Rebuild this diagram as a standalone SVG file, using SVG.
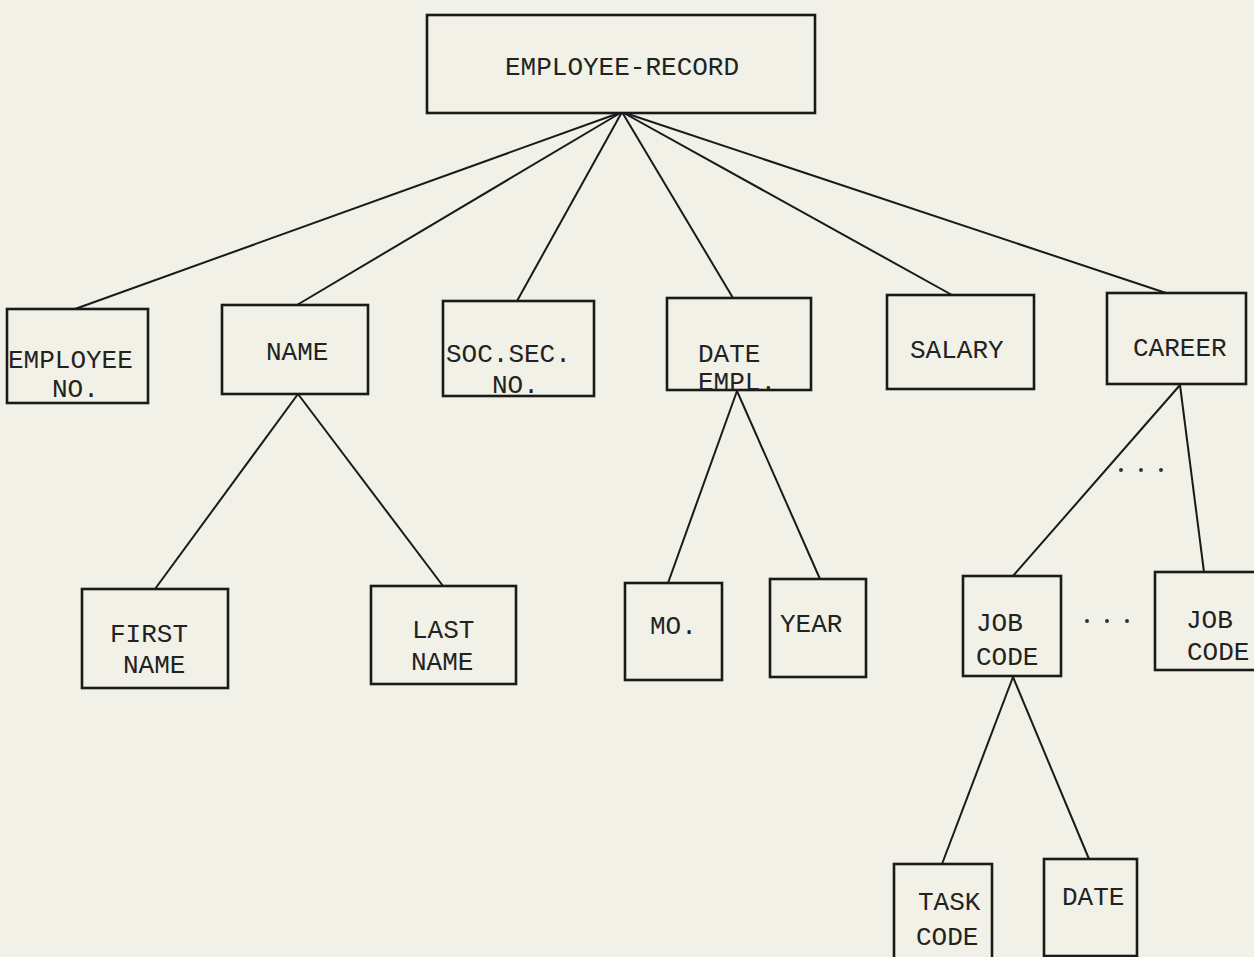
<svg xmlns="http://www.w3.org/2000/svg" width="1254" height="957" viewBox="0 0 1254 957">
<style>
.bg{fill:#f1f1e7}
.box{fill:#f1f1e7;stroke:#1a1a1a;stroke-width:2.6}
.ln{stroke:#1a1a1a;stroke-width:2;fill:none}
text{font-family:"Liberation Mono","DejaVu Sans Mono",monospace;font-size:26px;fill:#222}
.dot{fill:#333}
</style>
<rect class="bg" x="0" y="0" width="1254" height="957"/>
<g id="connectors">
<line class="ln" x1="622" y1="112" x2="75" y2="309"/>
<line class="ln" x1="622" y1="112" x2="297" y2="305"/>
<line class="ln" x1="622" y1="112" x2="517" y2="301"/>
<line class="ln" x1="622" y1="112" x2="733" y2="298"/>
<line class="ln" x1="622" y1="112" x2="952" y2="295"/>
<line class="ln" x1="622" y1="112" x2="1166" y2="293"/>
<line class="ln" x1="298" y1="394" x2="155" y2="589"/>
<line class="ln" x1="298" y1="394" x2="443" y2="586"/>
<line class="ln" x1="737" y1="391" x2="668" y2="583"/>
<line class="ln" x1="737" y1="391" x2="820" y2="579"/>
<line class="ln" x1="1180" y1="385" x2="1013" y2="576"/>
<line class="ln" x1="1180" y1="385" x2="1204" y2="572"/>
<line class="ln" x1="1013" y1="677" x2="942" y2="864"/>
<line class="ln" x1="1013" y1="677" x2="1089" y2="859"/>
</g>
<g id="dots1"><circle class="dot" cx="1121" cy="470" r="2"/><circle class="dot" cx="1141" cy="470" r="2"/><circle class="dot" cx="1161" cy="470" r="2"/></g>
<g id="dots2"><circle class="dot" cx="1087" cy="621" r="2"/><circle class="dot" cx="1107" cy="621" r="2"/><circle class="dot" cx="1127" cy="621" r="2"/></g>
<g id="employee-record"><rect class="box" x="427" y="15" width="388" height="98"/><text x="505" y="75">EMPLOYEE-RECORD</text></g>
<g id="employee-no"><rect class="box" x="7" y="309" width="141" height="94"/><text x="8" y="368">EMPLOYEE</text><text x="52" y="397">NO.</text></g>
<g id="name"><rect class="box" x="222" y="305" width="146" height="89"/><text x="266" y="360">NAME</text></g>
<g id="soc-sec-no"><rect class="box" x="443" y="301" width="151" height="95"/><text x="446" y="362">SOC.SEC.</text><text x="492" y="393">NO.</text></g>
<g id="date-empl"><rect class="box" x="667" y="298" width="144" height="92"/><text x="698" y="362">DATE</text><text x="698" y="390">EMPL.</text></g>
<g id="salary"><rect class="box" x="887" y="295" width="147" height="94"/><text x="910" y="358">SALARY</text></g>
<g id="career"><rect class="box" x="1107" y="293" width="139" height="91"/><text x="1133" y="356">CAREER</text></g>
<g id="first-name"><rect class="box" x="82" y="589" width="146" height="99"/><text x="110" y="642">FIRST</text><text x="123" y="673">NAME</text></g>
<g id="last-name"><rect class="box" x="371" y="586" width="145" height="98"/><text x="412" y="638">LAST</text><text x="411" y="670">NAME</text></g>
<g id="mo"><rect class="box" x="625" y="583" width="97" height="97"/><text x="650" y="634">MO.</text></g>
<g id="year"><rect class="box" x="770" y="579" width="96" height="98"/><text x="780" y="632">YEAR</text></g>
<g id="job-code-1"><rect class="box" x="963" y="576" width="98" height="100"/><text x="976" y="631">JOB</text><text x="976" y="665">CODE</text></g>
<g id="job-code-2"><rect class="box" x="1155" y="572" width="101" height="98"/><text x="1186" y="628">JOB</text><text x="1187" y="660">CODE</text></g>
<g id="task-code"><rect class="box" x="894" y="864" width="98" height="95"/><text x="918" y="910">TASK</text><text x="916" y="945">CODE</text></g>
<g id="date"><rect class="box" x="1044" y="859" width="93" height="97"/><text x="1062" y="905">DATE</text></g>
</svg>
